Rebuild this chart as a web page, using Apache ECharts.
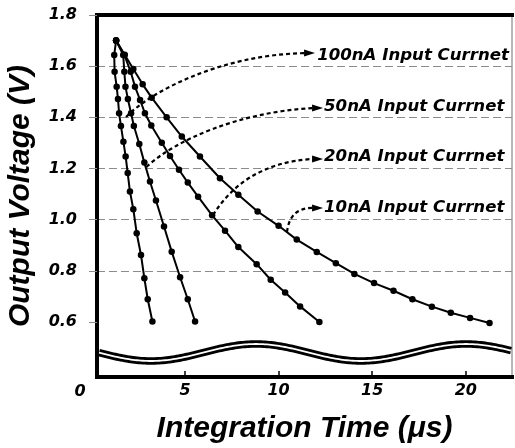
<!DOCTYPE html>
<html>
<head>
<meta charset="UTF-8">
<title>Output Voltage vs Integration Time</title>
<script src="https://cdn.jsdelivr.net/npm/echarts@6/dist/echarts.min.js"></script>
<style>
    html, body { margin: 0; padding: 0; background: #ffffff; }
    #chart1 { width: 515px; height: 448px; }
</style>
</head>
<body>
<div id="chart1"></div>
<script type="text/javascript">
// data: time in µs, voltage in V
var time100 = [1.32, 1.22, 1.24, 1.35, 1.42, 1.48, 1.58, 1.71, 1.83, 1.94, 2.06, 2.24, 2.42, 2.65, 2.83, 3.01, 3.26];
var volt100 = [1.70, 1.644, 1.578, 1.52, 1.472, 1.416, 1.366, 1.305, 1.247, 1.182, 1.110, 1.041, 0.947, 0.862, 0.771, 0.689, 0.602];

var time50 = [1.32, 1.70, 1.76, 1.82, 1.95, 2.12, 2.27, 2.56, 2.83, 3.13, 3.45, 3.88, 4.29, 4.74, 5.15, 5.54];
var volt50 = [1.70, 1.644, 1.578, 1.52, 1.472, 1.416, 1.366, 1.296, 1.223, 1.149, 1.075, 0.973, 0.875, 0.775, 0.689, 0.602];

var time20 = [1.32, 1.76, 2.10, 2.33, 2.60, 2.86, 3.20, 3.76, 4.20, 4.68, 5.15, 5.70, 6.45, 7.14, 7.85, 8.83, 9.58, 10.35, 11.15, 12.18];
var volt20 = [1.70, 1.644, 1.578, 1.52, 1.468, 1.416, 1.368, 1.301, 1.249, 1.195, 1.145, 1.090, 1.017, 0.957, 0.893, 0.826, 0.765, 0.715, 0.661, 0.600];

var time10 = [1.32, 1.78, 2.24, 2.74, 3.22, 4.02, 4.83, 5.80, 6.87, 7.85, 8.88, 10.0, 10.97, 12.04, 13.06, 14.05, 15.1, 16.14, 17.15, 18.19, 19.2, 20.23, 21.27];
var volt10 = [1.70, 1.645, 1.589, 1.529, 1.477, 1.40, 1.325, 1.247, 1.162, 1.097, 1.032, 0.976, 0.922, 0.874, 0.830, 0.788, 0.752, 0.722, 0.689, 0.660, 0.636, 0.616, 0.596];

var seriesNames = ['100nA', '50nA', '20nA', '10nA'];
var yTicks = [0.6, 0.8, 1.0, 1.2, 1.4, 1.6, 1.8];
var xTicks = [5, 10, 15, 20];
var noteTexts = ['100nA Input Currnet', '50nA Input Currnet', '20nA Input Currnet', '10nA Input Currnet'];

// dotted arrows (start, two control points, end) and label anchors, in axis units
var arrowPaths = [
    [[1.85, 1.401], [3.13, 1.499], [6.87, 1.644], [11.36, 1.651]],
    [[2.94, 1.206], [4.47, 1.311], [7.94, 1.421], [11.79, 1.436]],
    [[6.50, 1.018], [7.51, 1.136], [9.12, 1.225], [11.79, 1.237]],
    [[10.45, 0.952], [10.56, 1.018], [11.04, 1.046], [11.79, 1.046]]
];
var noteAnchors = [[12.06, 1.642], [12.43, 1.440], [12.43, 1.245], [12.43, 1.0475]];

var tickFont = {
    color: '#000000',
    fontFamily: 'DejaVu Sans',
    fontWeight: 'bold',
    fontStyle: 'italic',
    fontSize: 16
};
var titleFont = {
    color: '#000000',
    fontFamily: 'Liberation Sans',
    fontWeight: 'bold',
    fontStyle: 'italic',
    fontSize: 30
};

var chart1 = echarts.init(document.getElementById('chart1'));

var curves = [[time100, volt100], [time50, volt50], [time20, volt20], [time10, volt10]];
var series = curves.map(function (c, idx) {
    return {
        name: seriesNames[idx],
        type: 'line',
        data: c[0].map(function (t, i) { return [t, c[1][i]]; }),
        symbol: 'circle',
        symbolSize: 6.5,
        lineStyle: { color: '#000000', width: 2 },
        itemStyle: { color: '#000000' },
        z: 3
    };
});

var option = {
    backgroundColor: '#ffffff',
    animation: false,
    grid: {
        left: 97,
        right: 3,
        top: 15,
        bottom: 71,
        containLabel: false,
        outerBoundsMode: 'none',
        show: true,
        borderColor: '#6e6e6e',
        borderWidth: 1
    },
    xAxis: [
        {
            type: 'value',
            min: 0.3,
            max: 22.47,
            axisLine: { onZero: false, lineStyle: { color: '#000000', width: 4, cap: 'square' } },
            axisTick: { show: true, inside: true, length: 6, customValues: xTicks, lineStyle: { color: '#000000', width: 1.5 } },
            axisLabel: Object.assign({ customValues: xTicks, margin: 6 }, tickFont),
            splitLine: { show: false },
            name: 'Integration Time (μs)',
            nameLocation: 'middle',
            nameGap: 37,
            nameMoveOverlap: false,
            nameTextStyle: titleFont
        },
        {
            type: 'value',
            position: 'top',
            min: 0.3,
            max: 22.47,
            axisLine: { onZero: false, lineStyle: { color: '#000000', width: 4, cap: 'square' } },
            axisTick: { show: false },
            axisLabel: { show: false },
            splitLine: { show: false }
        }
    ],
    yAxis: [
        {
            type: 'value',
            min: 0.385,
            max: 1.8,
            splitNumber: 7,
            axisLine: { show: true, onZero: false, lineStyle: { color: '#000000', width: 4, cap: 'square' } },
            axisTick: { show: true, length: 8, customValues: yTicks, lineStyle: { color: '#8c8c8c' } },
            axisLabel: Object.assign({
                customValues: yTicks,
                margin: 20,
                formatter: function (v) { return v.toFixed(1); }
            }, tickFont),
            splitLine: {
                show: true,
                showMinLine: false,
                showMaxLine: false,
                lineStyle: { color: '#8c8c8c', type: [8, 4], width: 1 }
            },
            name: 'Output Voltage (V)',
            nameLocation: 'middle',
            nameGap: 61,
            nameMoveOverlap: false,
            nameTextStyle: titleFont
        }
    ],
    series: series
};

chart1.setOption(option);

// annotations: axis break, dotted arrows and their labels
var graphics = [];

var wave = [];
for (var px = 99; px <= 511; px += 2) {
    wave.push([px, 352.5 - 8.5 * Math.cos(2 * Math.PI * (px - 256) / 210)]);
}
graphics.push({ type: 'polyline', shape: { points: wave }, style: { stroke: '#000000', lineWidth: 7.5, fill: null }, z: 5 });
graphics.push({ type: 'polyline', shape: { points: wave }, style: { stroke: '#ffffff', lineWidth: 1.8, fill: null }, z: 6 });

arrowPaths.forEach(function (p) {
    var q = p.map(function (pt) { return chart1.convertToPixel({ gridIndex: 0 }, pt); });
    graphics.push({
        type: 'bezierCurve',
        shape: { x1: q[0][0], y1: q[0][1], cpx1: q[1][0], cpy1: q[1][1], cpx2: q[2][0], cpy2: q[2][1], x2: q[3][0], y2: q[3][1] },
        style: { stroke: '#000000', lineWidth: 2.2, lineDash: [4, 3], fill: null },
        z: 5
    });
    graphics.push({
        type: 'polygon',
        shape: { points: [[q[3][0], q[3][1] - 3.5], [q[3][0] + 11, q[3][1]], [q[3][0], q[3][1] + 3.5]] },
        style: { fill: '#000000' },
        z: 5
    });
});

noteAnchors.forEach(function (a, i) {
    var p = chart1.convertToPixel({ gridIndex: 0 }, a);
    graphics.push({
        type: 'text',
        x: p[0],
        y: p[1],
        style: {
            text: noteTexts[i],
            fill: '#000000',
            font: 'italic bold 16.6px "DejaVu Sans"',
            align: 'left',
            verticalAlign: 'middle'
        },
        z: 6
    });
});

// the corner "0" shared by both axes
graphics.push({
    type: 'text',
    x: 80,
    y: 392,
    style: {
        text: '0',
        fill: '#000000',
        font: 'italic bold 16px "DejaVu Sans"',
        align: 'center',
        verticalAlign: 'middle'
    },
    z: 6
});

chart1.setOption({ graphic: graphics });
</script>
</body>
</html>
